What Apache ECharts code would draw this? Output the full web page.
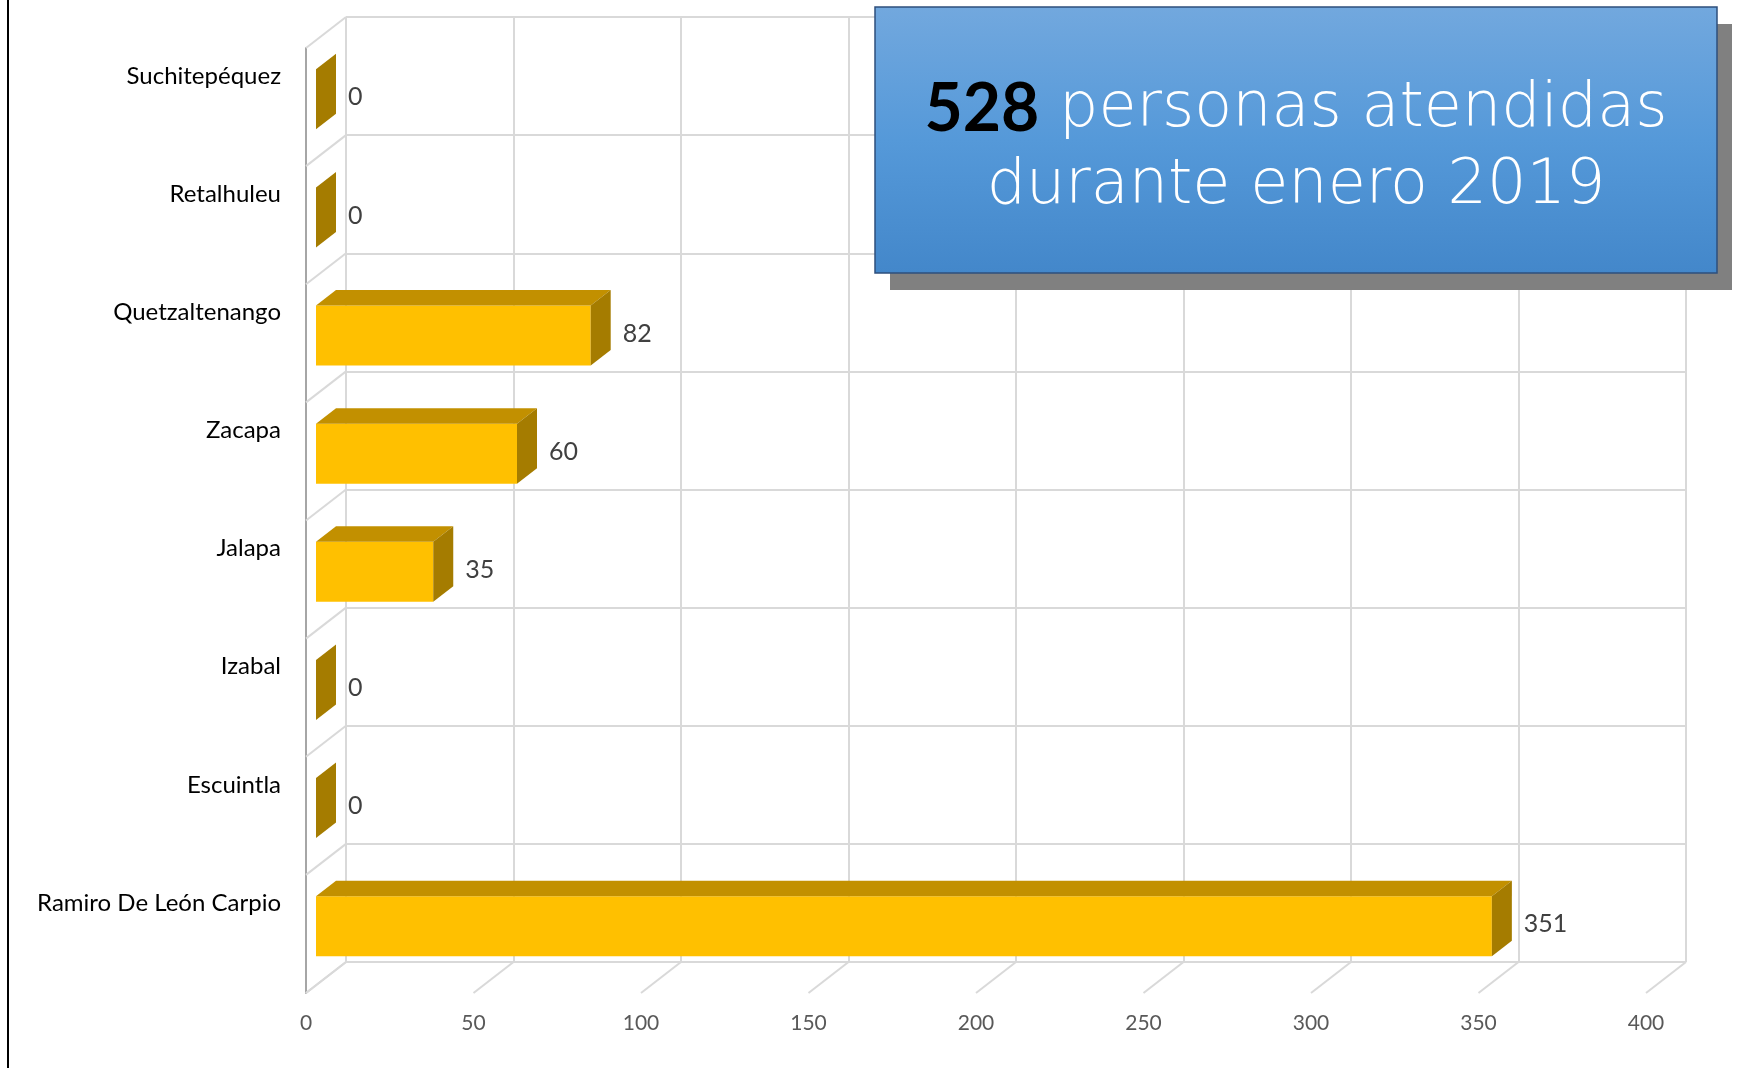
<!DOCTYPE html>
<html>
<head>
<meta charset="utf-8">
<title>Personas atendidas enero 2019</title>
<script src="https://cdn.jsdelivr.net/npm/echarts@6/dist/echarts.min.js"></script>
<style>
  html, body { margin: 0; padding: 0; background: #fff; }
  #chart { width: 1741px; height: 1068px; }
</style>
</head>
<body>
<div id="chart"></div>
<script>
// datos (de arriba hacia abajo)
const categories = [
  'Suchitepéquez', 'Retalhuleu', 'Quetzaltenango', 'Zacapa',
  'Jalapa', 'Izabal', 'Escuintla', 'Ramiro De León Carpio',
];
const values = [0, 0, 82, 60, 35, 0, 0, 351];
const xTicks = [0, 50, 100, 150, 200, 250, 300, 350, 400];
const totalAtendidas = '528';

// geometría del "3D"
const BACK = { left: 346, top: 17, width: 1340, height: 945 };
const DEPTH = [-40, 31];           // desplazamiento de la pared trasera al frente
const BAR_DEPTH = 0.75;            // plano frontal de las barras
const BAR_H = 60;

const gridAt = (k) => ({
  left: BACK.left + DEPTH[0] * k,
  top: BACK.top + DEPTH[1] * k,
  width: BACK.width,
  height: BACK.height,
});

const gridLine = { color: '#d9d9d9', width: 2 };
const xMax = xTicks[xTicks.length - 1];
const xStep = xTicks[1] - xTicks[0];

const xAxisBase = {
  type: 'value', min: 0, max: xMax, interval: xStep,
  axisLine: { show: false }, axisTick: { show: false },
  axisLabel: { show: false }, splitLine: { show: false },
};
const yAxisBase = {
  type: 'category', data: categories, inverse: true,
  axisLine: { show: false }, axisTick: { show: false },
  axisLabel: { show: false }, splitLine: { show: false },
};

function renderFloor(params, api) {
  const cs = params.coordSys;
  const x = api.coord([api.value(0), 0])[0];
  const y = cs.y + cs.height;
  return {
    type: 'line',
    shape: { x1: x, y1: y, x2: x + DEPTH[0], y2: y + DEPTH[1] },
    style: { stroke: gridLine.color, lineWidth: gridLine.width },
  };
}

function renderWall(params, api) {
  const cs = params.coordSys;
  const y = cs.y + api.value(2) * cs.height / categories.length;
  return {
    type: 'line',
    shape: { x1: cs.x, y1: y, x2: cs.x + DEPTH[0], y2: y + DEPTH[1] },
    style: { stroke: gridLine.color, lineWidth: gridLine.width },
  };
}

function renderBar(params, api) {
  const v = api.value(0);
  const i = api.value(1);
  const start = api.coord([0, i]);
  const end = api.coord([v, i]);
  const top = start[1] - BAR_H / 2;
  const bot = start[1] + BAR_H / 2;
  const dx = -DEPTH[0] * 0.5;
  const dy = -DEPTH[1] * 0.5;
  return {
    type: 'group',
    children: [
      {
        type: 'rect',
        shape: { x: start[0], y: top, width: end[0] - start[0], height: BAR_H },
        style: { fill: '#FFC000' },
      },
      {
        type: 'polygon',
        shape: { points: [[start[0], top], [start[0] + dx, top + dy], [end[0] + dx, top + dy], [end[0], top]] },
        style: { fill: '#C29000' },
      },
      {
        type: 'polygon',
        shape: { points: [[end[0], top], [end[0] + dx, top + dy], [end[0] + dx, bot + dy], [end[0], bot]] },
        style: { fill: '#A57C00' },
      },
      {
        type: 'text',
        x: end[0] + dx + 12,
        y: start[1] - 2,
        style: {
          text: String(v), fill: '#404040', fontSize: 25,
          fontFamily: 'Lato', verticalAlign: 'middle',
        },
      },
    ],
  };
}

const chart = echarts.init(document.getElementById('chart'));
chart.setOption({
  animation: false,
  backgroundColor: '#fff',
  grid: [gridAt(0), gridAt(BAR_DEPTH), gridAt(1)],
  xAxis: [
    { ...xAxisBase, gridIndex: 0, splitLine: { show: true, lineStyle: gridLine } },
    { ...xAxisBase, gridIndex: 1 },
    {
      ...xAxisBase, gridIndex: 2,
      axisLabel: { show: true, color: '#595959', fontSize: 21, fontFamily: 'Lato', margin: 20 },
    },
  ],
  yAxis: [
    {
      ...yAxisBase, gridIndex: 0,
      splitLine: { show: true, lineStyle: gridLine },
      axisLabel: { show: true, color: '#000', fontSize: 24, fontFamily: 'Lato', margin: 65 },
    },
    { ...yAxisBase, gridIndex: 1 },
    {
      ...yAxisBase, gridIndex: 2,
      axisLine: { show: true, lineStyle: { color: '#a6a6a6', width: 2 } },
    },
  ],
  series: [
    {
      type: 'custom', xAxisIndex: 0, yAxisIndex: 0, clip: false, z: 1,
      renderItem: renderFloor,
      data: xTicks.map(t => [t, 0]),
    },
    {
      type: 'custom', xAxisIndex: 0, yAxisIndex: 0, clip: false, z: 1,
      renderItem: renderWall,
      data: categories.map((c, i) => [0, 0, i]).concat([[0, 0, categories.length]]),
    },
    {
      type: 'custom', xAxisIndex: 1, yAxisIndex: 1, clip: false, z: 3,
      renderItem: renderBar,
      data: values.map((v, i) => [v, i]),
    },
  ],
  graphic: [
    { type: 'line', shape: { x1: 8, y1: 0, x2: 8, y2: 1068 }, style: { stroke: '#000', lineWidth: 2 }, z: 10 },
    { type: 'rect', shape: { x: 890, y: 24, width: 842, height: 266 }, style: { fill: '#808080' }, z: 10 },
    {
      type: 'rect', shape: { x: 875, y: 7, width: 842, height: 266 }, z: 11,
      style: {
        stroke: '#2e4f7c', lineWidth: 1.5,
        fill: new echarts.graphic.LinearGradient(0, 0, 0, 1, [
          { offset: 0, color: '#72A8DE' },
          { offset: 0.5, color: '#5599D9' },
          { offset: 1, color: '#4387CA' },
        ]),
      },
    },
    {
      type: 'text', x: 1296, y: 110, z: 12,
      style: {
        text: '{n|' + totalAtendidas + '} personas atendidas',
        fill: '#fff', fontSize: 62, fontFamily: 'DejaVu Sans', fontWeight: 200,
        align: 'center', verticalAlign: 'middle',
        rich: { n: { fill: '#000', fontSize: 66, fontWeight: 'bold', fontFamily: 'Lato' } },
      },
    },
    {
      type: 'text', x: 1296, y: 187, z: 12,
      style: {
        text: 'durante enero 2019', fill: '#fff', fontSize: 62,
        fontFamily: 'DejaVu Sans', fontWeight: 200,
        align: 'center', verticalAlign: 'middle',
      },
    },
  ],
});
</script>
</body>
</html>
